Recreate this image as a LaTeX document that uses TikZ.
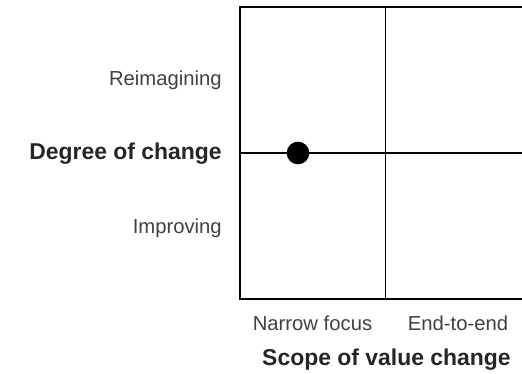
\documentclass[tikz,border=0pt]{standalone}
\usepackage{fontspec}
\setmainfont{Liberation Sans}
\usetikzlibrary{positioning}

\begin{document}
\begin{tikzpicture}[
  x = 0.75pt,
  y = -0.75pt,
  axislabel/.style = {
    font = \fontsize{17.2}{19}\selectfont\bfseries,
    text = black!85,
    inner sep = 0pt,
  },
  ticklabel/.style = {
    font = \fontsize{15.2}{17}\selectfont,
    text = black!75,
    inner sep = 0pt,
  },
  grid/.style = {
    draw = black,
    line width = 0.8pt,
  },
  marker/.style = {
    circle,
    fill = black,
    inner sep = 0pt,
    minimum size = 17pt,
  },
]

  \useasboundingbox (0,0) rectangle (522,374);

  % frame of the matrix
  \coordinate (tl) at (240,7);
  \coordinate (bl) at (240,299);
  \coordinate (tr) at (522,7);
  \coordinate (br) at (522,299);
  \coordinate (mt) at (385.5,7);
  \coordinate (mb) at (385.5,299);
  \coordinate (ml) at (240,153);
  \coordinate (mr) at (522,153);

  \draw[grid] (tr) -- (tl) -- (bl) -- (br);
  \draw[grid] (mt) -- (mb);
  \draw[grid] (ml) -- (mr);

  \node[marker] (dot) at (298,153) {};

  % vertical axis
  \node[ticklabel, anchor=east] (reimag) at (222,80) {Reimagining};
  \node[axislabel, anchor=east] (degree) at (222,153.5) {Degree of change};
  \node[ticklabel, anchor=east] (improv) at (222,228) {Improving};

  % horizontal axis
  \node[ticklabel] (narrow) at (312.5,323) {Narrow focus};
  \node[ticklabel] (endend) at (458,323) {End-to-end};
  \node[axislabel] (scope) at (386.5,359.5) {Scope of value change};

\end{tikzpicture}
\end{document}
